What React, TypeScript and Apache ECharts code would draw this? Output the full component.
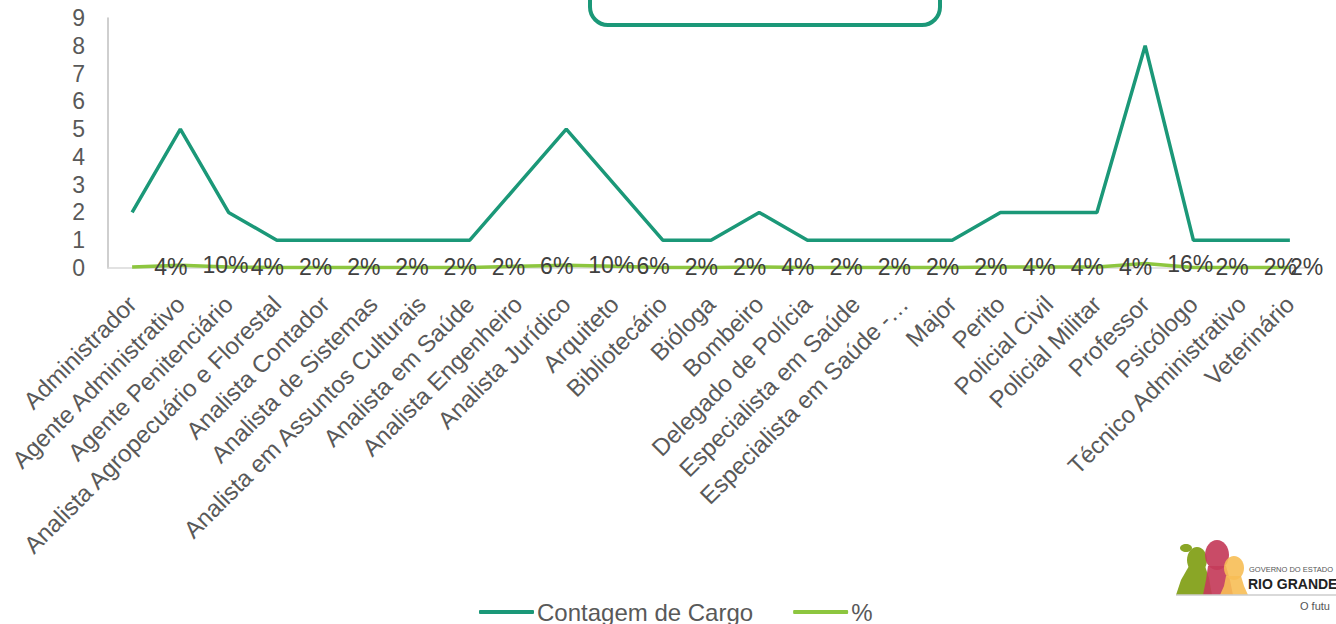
import React, { useEffect, useRef } from "react";
import * as echarts from "echarts";

const categories = [
  "Administrador",
  "Agente Administrativo",
  "Agente Penitenciário",
  "Analista Agropecuário e Florestal",
  "Analista Contador",
  "Analista de Sistemas",
  "Analista em Assuntos Culturais",
  "Analista em Saúde",
  "Analista Engenheiro",
  "Analista Jurídico",
  "Arquiteto",
  "Bibliotecário",
  "Bióloga",
  "Bombeiro",
  "Delegado de Polícia",
  "Especialista em Saúde",
  "Especialista em Saúde -…",
  "Major",
  "Perito",
  "Policial Civil",
  "Policial Militar",
  "Professor",
  "Psicólogo",
  "Técnico Administrativo",
  "Veterinário",
];

const contagem = [2, 5, 2, 1, 1, 1, 1, 1, 3, 5, 3, 1, 1, 2, 1, 1, 1, 1, 2, 2, 2, 8, 1, 1, 1];

const percentual = [
  0.04, 0.1, 0.04, 0.02, 0.02, 0.02, 0.02, 0.02, 0.06, 0.1, 0.06, 0.02, 0.02, 0.04, 0.02, 0.02,
  0.02, 0.02, 0.04, 0.04, 0.04, 0.16, 0.02, 0.02, 0.02,
];

const yTicks = { min: 0, max: 9, interval: 1 };

const DARK = "#1B9878";
const LIGHT = "#8DC63F";
const TEXT = "#595959";
const FONT = "'Liberation Sans', Arial, sans-serif";

export default function App() {
  const ref = useRef<HTMLDivElement>(null);
  useEffect(() => {
    if (!ref.current) return;
    const chart = echarts.init(ref.current, null, { renderer: "svg" });
    const percentData = percentual.map((v, i) =>
      i === percentual.length - 1 ? { value: v, label: { distance: 0 } } : v
    );
    chart.setOption({
      animation: false,
      backgroundColor: "#ffffff",
      textStyle: { fontFamily: FONT },
      grid: { left: 108, right: 22, top: 18, bottom: 356, containLabel: false },
      legend: {
        left: 474,
        top: 595,
        itemWidth: 55,
        itemHeight: 4,
        itemGap: 40,
        icon: "roundRect",
        textStyle: { fontSize: 24, color: TEXT, fontFamily: FONT, padding: [0, 0, 0, -2] },
        data: ["Contagem de Cargo", "%"],
      },
      xAxis: {
        type: "category",
        data: categories,
        boundaryGap: true,
        axisLine: { show: true, lineStyle: { color: "#D9D9D9", width: 1.5 } },
        axisTick: { show: false },
        splitLine: { show: false },
        axisLabel: {
          interval: 0,
          rotate: 45,
          margin: 32,
          fontSize: 24,
          color: TEXT,
          fontFamily: FONT,
        },
      },
      yAxis: {
        type: "value",
        min: yTicks.min,
        max: yTicks.max,
        interval: yTicks.interval,
        axisLine: { show: true, lineStyle: { color: "#BFBFBF", width: 1.5 } },
        axisTick: { show: false },
        splitLine: { show: false },
        axisLabel: { fontSize: 23, color: TEXT, margin: 23, fontFamily: FONT },
      },
      series: [
        {
          name: "Contagem de Cargo",
          type: "line",
          data: contagem,
          symbol: "none",
          lineStyle: { color: DARK, width: 3.5 },
          itemStyle: { color: DARK },
          z: 3,
        },
        {
          name: "%",
          type: "line",
          data: percentData,
          symbol: "circle",
          symbolSize: 0.1,
          showSymbol: true,
          lineStyle: { color: LIGHT, width: 3.5 },
          itemStyle: { color: LIGHT },
          z: 2,
          label: {
            show: true,
            position: "right",
            distance: 22,
            fontSize: 23,
            color: "#404040",
            fontFamily: FONT,
            formatter: (p: any) => Math.round(p.value * 100) + "%",
          },
        },
      ],
      graphic: [
        {
          type: "rect",
          shape: { x: 590, y: -40, width: 350, height: 65, r: 18 },
          style: { fill: "none", stroke: DARK, lineWidth: 4 },
          z: 10,
        },
        {
          type: "group",
          z: 10,
          children: [
            { type: "ellipse", shape: { cx: 1186, cy: 548, rx: 6, ry: 4 }, style: { fill: "#8AA626" } },
            { type: "ellipse", shape: { cx: 1197, cy: 560, rx: 10, ry: 13 }, style: { fill: "#8AA626" } },
            {
              type: "polygon",
              shape: { points: [[1189, 566], [1205, 566], [1209, 578], [1212, 595], [1176, 595], [1181, 580]] },
              style: { fill: "#8AA626" },
            },
            { type: "ellipse", shape: { cx: 1217, cy: 555, rx: 12, ry: 15 }, style: { fill: "#C43C5A", opacity: 0.92 } },
            {
              type: "polygon",
              shape: { points: [[1208, 566], [1226, 566], [1230, 580], [1233, 595], [1203, 595], [1206, 580]] },
              style: { fill: "#C43C5A", opacity: 0.92 },
            },
            { type: "ellipse", shape: { cx: 1234, cy: 568, rx: 10, ry: 12 }, style: { fill: "#F7BE55", opacity: 0.9 } },
            {
              type: "polygon",
              shape: { points: [[1226, 576], [1241, 576], [1244, 586], [1248, 595], [1220, 595], [1224, 586]] },
              style: { fill: "#F7BE55", opacity: 0.9 },
            },
            {
              type: "text",
              style: { x: 1249, y: 569, text: "GOVERNO DO ESTADO", fontSize: 7.5, fill: "#555", fontFamily: FONT, verticalAlign: "middle" },
            },
            {
              type: "text",
              style: { x: 1248, y: 584, text: "RIO GRANDE", fontSize: 14, fontWeight: "bold", fill: "#222", fontFamily: FONT, verticalAlign: "middle" },
            },
            { type: "line", shape: { x1: 1176, y1: 595, x2: 1336, y2: 595 }, style: { stroke: "#CCCCCC", lineWidth: 1.5 } },
            {
              type: "text",
              style: { x: 1300, y: 606, text: "O futu", fontSize: 11, fill: "#555", fontFamily: FONT, verticalAlign: "middle" },
            },
          ],
        },
      ],
    });
    return () => chart.dispose();
  }, []);
  return (
    <div
      ref={ref}
      style={{ position: "fixed", left: 0, top: 0, width: 1336, height: 624, background: "#fff" }}
    />
  );
}
